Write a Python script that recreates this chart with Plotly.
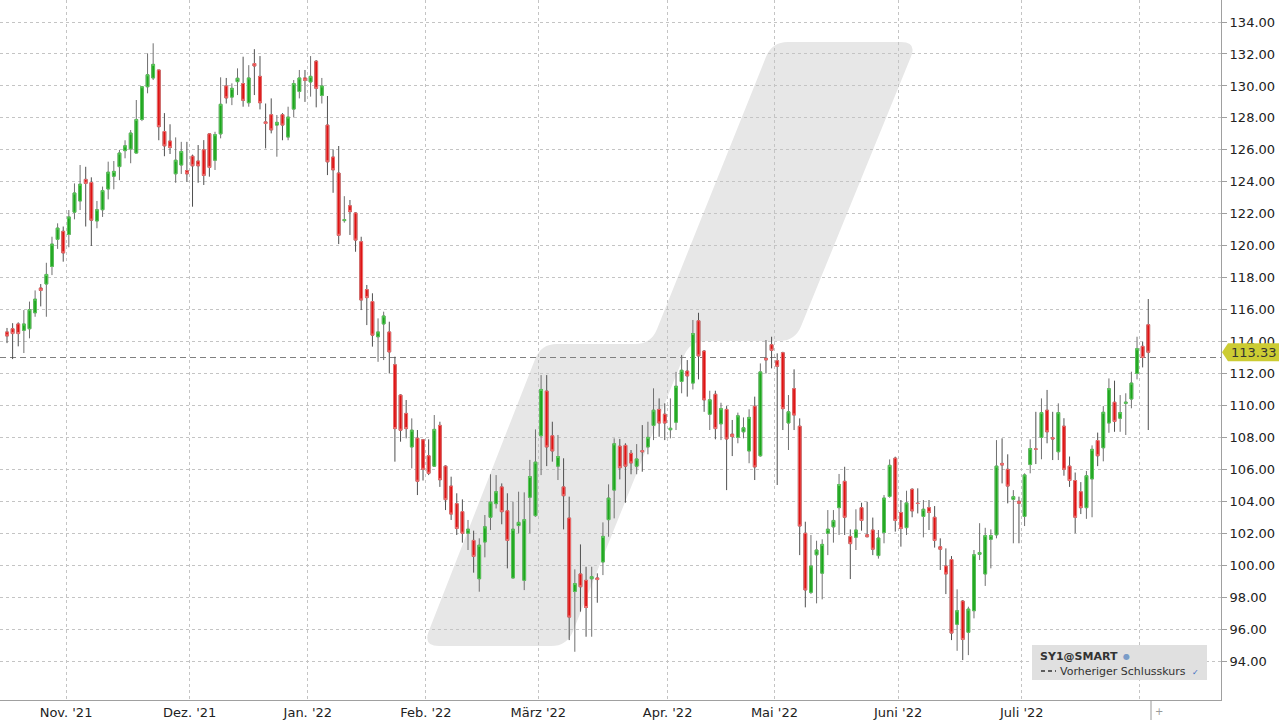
import plotly.graph_objects as go
import pandas as pd

# ---------------- data ----------------
holidays = ["2021-12-24", "2021-12-31", "2022-04-15", "2022-04-18"]
all_days = pd.bdate_range("2021-10-15", "2022-08-02")
dates = all_days[~all_days.isin(pd.to_datetime(holidays))]

opens = [114.6, 114.8, 115.1, 114.7, 114.8, 115.8, 117.35, 117.6, 118.7, 120.4, 120.9,
         120.7, 122.1, 122.8, 124.15, 123.95, 121.55, 122.25, 123.55, 124.35, 124.95,
         125.95, 126.05, 125.8, 127.9, 129.95, 130.5, 131.0, 127.15, 126.55, 124.5, 125.05, 124.7,
         125.6, 125.3, 126.0, 127.0, 125.35, 127.0, 130.0, 129.3, 130.27, 130.15, 128.95,
         131.4, 130.6, 127.75, 128.2, 127.55, 128.2, 126.8, 128.55, 129.65, 130.5,
         130.25, 131.55, 129.4, 127.55, 125.55, 124.55, 121.57, 122.5, 122.05, 120.25, 117.25,
         116.5, 114.3, 115.1, 114.6, 112.55, 110.65, 109.5, 107.4, 107.95, 107.85,
         106.85, 106.2, 108.75, 106.2, 104.95, 103.85, 103.35, 102.0, 101.55, 99.15, 101.45,
         103.0, 103.85, 104.9, 103.4, 99.2, 102.48, 99.05, 104.25, 103.1,
         108.1, 110.9, 108.1, 106.2, 104.9, 102.95, 98.35, 99.45, 99.05, 99.15, 99.2, 100.2,
         102.85, 104.7, 107.45, 107.5, 107.0, 106.2, 107.17, 107.4, 108.75, 109.75, 109.45,
         108.48, 108.95, 111.5, 112.15, 111.4, 115.3, 113.4, 109.45, 110.7, 108.85, 109.75,
         108.2, 108.0, 108.35, 107.15, 109.95, 106.85, 112.95, 113.8,
         112.8, 113.3, 108.9, 111.05, 108.7, 102.0, 98.3, 100.65, 99.5, 102.0, 102.4, 103.6,
         105.25, 101.8, 101.75, 103.6, 101.9, 102.2, 100.6, 102.05, 104.3, 106.7,
         103.3, 102.35, 104.75, 103.88, 103.05, 103.6, 103.0, 101.15, 99.95, 100.35, 96.3,
         97.75, 95.8, 97.15, 100.68, 99.45, 101.62, 101.9, 106.37, 106.0, 104.12, 104.0,
         103.05, 106.3, 107.28, 108.0, 109.7, 107.98, 107.1, 108.7, 106.2, 105.3, 104.6,
         103.6, 105.4, 107.8, 107.35, 108.9, 110.2, 109.2, 110.13, 110.4, 112.0,
         113.7, 115.05]
highs = [114.85, 115.15, 115.2, 115.97, 116.5, 117.2, 117.6, 118.93, 120.56, 121.4, 121.2,
         122.23, 123.9, 125.05, 124.94, 124.28, 122.8, 123.7, 125.26, 125.3, 126.0,
         126.6, 127.24, 129.12, 130.0, 132.04, 132.67, 131.0, 128.3, 127.6, 126.78, 126.5, 126.5,
         125.7, 126.3, 126.61, 127.0, 127.13, 130.54, 130.5, 130.16, 131.1, 131.83, 131.3,
         132.3, 131.87, 128.9, 129.22, 128.18, 128.3, 128.7, 130.37, 131.0, 131.0,
         131.87, 131.62, 130.5, 129.37, 126.03, 126.24, 123.1, 122.86, 122.1, 120.56, 117.54,
         117.02, 115.45, 115.87, 115.24, 113.05, 110.7, 110.34, 109.19, 108.46, 107.9,
         107.88, 109.4, 108.98, 106.25, 105.54, 104.5, 104.12, 102.83, 102.16, 101.68, 103.14,
         105.69, 105.64, 105.12, 104.5, 103.97, 104.6, 104.56, 106.59, 108.5,
         111.9, 111.9, 108.98, 108.15, 106.69, 104.29, 99.74, 101.3, 99.9, 99.9, 99.49, 102.68,
         105.06, 107.94, 107.9, 107.63, 107.21, 107.58, 108.77, 108.98, 111.07, 110.44, 110.13,
         110.44, 112.1, 113.16, 112.84, 115.35, 115.8, 113.47, 110.92, 110.92, 110.17, 109.96,
         109.09, 109.55, 109.25, 109.76, 110.55, 112.63, 114.09, 114.3,
         113.26, 113.36, 110.65, 112.26, 109.19, 102.72, 101.89, 101.53, 101.62, 103.45, 103.45, 105.71,
         106.16, 102.24, 103.5, 103.91, 103.97, 102.98, 102.2, 104.39, 106.62, 106.79,
         104.08, 104.66, 104.81, 104.81, 104.08, 104.08, 103.7, 101.68, 101.05, 100.57, 98.49,
         97.82, 97.4, 100.95, 102.63, 102.34, 102.24, 107.83, 107.94, 106.94, 104.7, 104.29,
         105.75, 107.88, 109.6, 110.44, 110.97, 109.6, 110.13, 109.2, 106.8, 105.8, 105.2,
         105.9, 107.5, 108.3, 109.96, 111.69, 111.55, 110.65, 110.76, 112.11, 114.3,
         113.99, 116.66]
lows = [113.9, 112.9, 113.7, 113.28, 114.2, 115.55, 116.2, 115.55, 118.16, 119.8, 119.0,
        119.9, 121.65, 122.23, 121.2, 119.98, 121.09, 121.8, 122.9, 123.53, 124.1,
        125.47, 125.16, 125.78, 127.8, 129.54, 130.37, 126.6, 125.6, 125.74, 123.94, 124.49, 124.0,
        122.44, 123.94, 123.8, 124.32, 124.74, 126.72, 128.9, 128.8, 129.43, 128.7, 128.7,
        129.43, 128.53, 126.09, 127.03, 125.57, 126.6, 126.6, 128.03, 129.22, 129.0,
        129.33, 128.66, 128.9, 124.42, 123.31, 120.1, 121.44, 120.67, 119.62, 115.97, 115.03,
        113.68, 112.73, 112.84, 112.0, 106.48, 107.73, 107.94, 106.06, 104.39, 105.3,
        105.64, 106.16, 104.9, 103.45, 102.83, 101.89, 101.41, 100.95, 99.53, 98.34, 100.49,
        102.2, 103.55, 102.56, 99.8, 99.17, 101.99, 98.44, 101.99, 103.03,
        105.64, 106.2, 106.48, 105.33, 102.24, 95.31, 94.58, 97.09, 95.52, 95.52, 97.65, 99.38,
        101.78, 102.93, 105.37, 103.91, 105.69, 105.69, 105.85, 106.94, 107.83, 108.04, 107.83,
        107.94, 108.46, 110.76, 110.55, 111.0, 111.63, 109.6, 108.46, 107.88, 107.83, 104.7,
        106.83, 107.63, 107.94, 106.38, 105.33, 106.79, 112.0, 112.32,
        105.02, 108.46, 107.21, 108.46, 100.63, 97.36, 98.19, 97.61, 97.86, 100.63, 101.41, 101.89,
        101.89, 99.13, 100.95, 102.16, 101.75, 100.63, 100.41, 101.37, 104.22, 102.1,
        101.16, 101.89, 103.0, 103.24, 101.74, 102.2, 101.1, 99.7, 98.19, 95.31, 94.64,
        94.06, 94.37, 96.67, 100.32, 98.7, 99.8, 101.68, 105.12, 103.87, 101.37, 101.37,
        102.45, 105.75, 106.33, 106.63, 107.63, 106.58, 106.58, 105.6, 104.9, 102.0, 103.2,
        102.9, 103.0, 106.2, 106.5, 108.29, 108.35, 108.35, 108.15, 109.82, 111.63,
        112.38, 108.46]
closes = [114.35, 114.5, 114.5, 115.1, 116.0, 116.65, 117.2, 118.2, 120.1, 121.1, 119.55,
          121.8, 123.3, 123.85, 123.9, 121.6, 122.25, 123.45, 124.6, 124.65, 125.8,
          126.25, 127.05, 127.9, 129.95, 130.7, 131.35, 127.45, 126.25, 126.15, 125.35, 125.9, 124.5,
          125.0, 125.0, 124.4, 124.9, 126.95, 128.85, 129.25, 129.85, 130.48, 129.1, 130.5,
          131.25, 128.95, 127.65, 127.25, 127.72, 127.55, 128.05, 130.15, 130.5, 130.35,
          130.6, 129.85, 130.0, 125.25, 124.75, 120.65, 121.63, 122.13, 120.35, 116.6, 116.75,
          114.4, 114.6, 115.6, 113.35, 108.55, 108.45, 108.55, 108.45, 105.25, 106.0,
          105.75, 108.5, 105.35, 104.1, 103.2, 102.3, 102.0, 102.25, 100.55, 101.25, 102.4,
          103.95, 104.6, 103.35, 101.55, 102.25, 102.68, 102.85, 105.55, 106.45,
          111.0, 107.4, 107.15, 106.8, 104.35, 96.75, 98.85, 98.65, 97.35, 99.28, 99.1, 101.8,
          104.2, 107.6, 106.1, 106.2, 106.4, 106.65, 107.1, 108.0, 109.7, 108.9, 108.9,
          108.57, 111.2, 112.2, 111.85, 114.5, 113.1, 110.35, 110.35, 108.55, 109.8, 107.9,
          108.05, 109.35, 108.6, 109.25, 106.15, 112.1, 112.85, 113.45,
          112.45, 109.8, 109.6, 109.4, 102.45, 98.45, 99.95, 100.95, 101.3, 102.25, 102.8, 105.05,
          103.0, 101.35, 102.2, 102.8, 101.78, 101.0, 101.7, 104.2, 106.25, 102.8,
          102.3, 103.9, 103.4, 103.86, 103.5, 103.3, 101.55, 101.0, 99.45, 95.75, 97.15,
          95.35, 97.25, 100.65, 100.79, 101.85, 101.85, 106.2, 106.27, 104.95, 104.29, 103.88,
          105.65, 107.3, 107.26, 109.55, 108.35, 107.9, 109.55, 106.0, 105.3, 103.0, 103.6,
          105.6, 107.25, 106.85, 109.57, 111.05, 109.0, 109.55, 110.2, 111.4, 113.55,
          113.0, 113.33]

month_labels = ["Nov. '21", "Dez. '21", "Jan. '22", "Feb. '22", "März '22",
                "Apr. '22", "Mai '22", "Juni '22", "Juli '22", ""]
y_ticks = [94, 96, 98, 100, 102, 104, 106, 108, 110, 112, 114, 116, 118, 120,
           122, 124, 126, 128, 130, 132, 134]
prev_close = 113.0
last_price = 113.33
instrument = "SY1@SMART"
prev_close_label = "Vorheriger Schlusskurs"

# ---------------- derived ----------------
n = len(dates)
idx = list(range(n))
body_hi = [max(o, c) for o, c in zip(opens, closes)]
body_lo = [min(o, c) for o, c in zip(opens, closes)]
month_starts = [i for i in range(1, n) if dates[i].month != dates[i - 1].month]
tickvals = [i - 0.5 for i in month_starts]

PLOT_W, PLOT_H = 1221, 700
Y_MIN, Y_MAX = 91.56, 135.38
X_MIN = -1.245
X_MAX = X_MIN + PLOT_W / 5.622

fig = go.Figure()

# wicks (grey)
fig.add_trace(go.Candlestick(
    x=idx, open=opens, high=highs, low=lows, close=closes,
    increasing=dict(line=dict(color="#707070", width=1), fillcolor="#707070"),
    decreasing=dict(line=dict(color="#505050", width=1), fillcolor="#505050"),
    hoverinfo="skip", showlegend=False, name=""))
# bodies
fig.add_trace(go.Candlestick(
    x=idx, open=opens, high=body_hi, low=body_lo, close=closes,
    increasing=dict(line=dict(color="#5cc85c", width=1), fillcolor="#1ea51e"),
    decreasing=dict(line=dict(color="#f07070", width=1), fillcolor="#dc1414"),
    showlegend=False, name=instrument))


def px2paper(x, y):
    return x / PLOT_W, (PLOT_H - y) / PLOT_H


def rounded_path(pts, r):
    import math
    segs = []
    m = len(pts)
    for k in range(m):
        p0, p1, p2 = pts[k - 1], pts[k], pts[(k + 1) % m]
        def toward(a, b):
            dx, dy = b[0] - a[0], b[1] - a[1]
            d = math.hypot(dx, dy)
            rr = min(r, d / 2.2)
            return (a[0] + dx / d * rr, a[1] + dy / d * rr)
        segs.append((toward(p1, p0), p1, toward(p1, p2)))
    def fmt(p):
        x, y = px2paper(*p)
        return f"{x:.5f},{y:.5f}"
    s = "M " + fmt(segs[0][0])
    for k in range(m):
        a, c, b = segs[k]
        if k > 0:
            s += " L " + fmt(a)
        s += " Q " + fmt(c) + " " + fmt(b)
    s += " L " + fmt(segs[0][0]) + " Z"
    return s


logo_pts = [(772, 42), (917, 42), (795, 341), (690, 341), (567, 646),
            (423, 646), (541, 344), (651, 344)]

shapes = [
    dict(type="path", xref="paper", yref="paper", path=rounded_path(logo_pts, 16),
         fillcolor="#e7e7e7", line=dict(width=0), layer="below"),
    dict(type="line", xref="paper", yref="y", x0=0, x1=1, y0=prev_close, y1=prev_close,
         line=dict(color="#808080", width=1, dash="6px,4px"), layer="between"),
    # legend box
    dict(type="rect", xref="paper", yref="paper",
         x0=1032 / PLOT_W, x1=1207 / PLOT_W, y0=(PLOT_H - 680) / PLOT_H, y1=(PLOT_H - 645) / PLOT_H,
         fillcolor="#e0e0e0", line=dict(width=0), layer="above"),
    dict(type="line", xref="paper", yref="paper",
         x0=1041 / PLOT_W, x1=1056 / PLOT_W, y0=(PLOT_H - 671) / PLOT_H, y1=(PLOT_H - 671) / PLOT_H,
         line=dict(color="#333333", width=1.5, dash="4px,3px"), layer="above"),
    # end marker below axis
    dict(type="line", xref="paper", yref="paper",
         x0=1151 / PLOT_W, x1=1151 / PLOT_W, y0=0, y1=-20 / PLOT_H,
         line=dict(color="#999999", width=1)),
]

# last price pennant
yp = (last_price - Y_MIN) / (Y_MAX - Y_MIN)
hh = 9 / PLOT_H
shapes.append(dict(type="path", xref="paper", yref="paper",
                   path=(f"M {1222/PLOT_W:.5f},{yp:.5f} L {1228/PLOT_W:.5f},{yp+hh:.5f} "
                         f"L {1279/PLOT_W:.5f},{yp+hh:.5f} L {1279/PLOT_W:.5f},{yp-hh:.5f} "
                         f"L {1228/PLOT_W:.5f},{yp-hh:.5f} Z"),
                   fillcolor="#cccc33", line=dict(width=0), layer="above"))

annotations = [
    dict(xref="paper", yref="paper", x=1229 / PLOT_W, y=yp, xanchor="left", yanchor="middle",
         text=f"{last_price:.2f}", showarrow=False,
         font=dict(family="DejaVu Sans", size=13, color="#333333")),
    dict(xref="paper", yref="paper", x=1038 / PLOT_W, y=(PLOT_H - 656) / PLOT_H,
         xanchor="left", yanchor="middle", text=f"<b>{instrument}</b>", showarrow=False,
         font=dict(family="DejaVu Sans", size=11, color="#333333")),
    dict(xref="paper", yref="paper", x=1121 / PLOT_W, y=(PLOT_H - 656) / PLOT_H,
         xanchor="left", yanchor="middle", text="●", showarrow=False,
         font=dict(family="DejaVu Sans", size=8, color="#7a9cc8")),
    dict(xref="paper", yref="paper", x=1058 / PLOT_W, y=(PLOT_H - 671) / PLOT_H,
         xanchor="left", yanchor="middle", text=prev_close_label, showarrow=False,
         font=dict(family="DejaVu Sans", size=11, color="#333333")),
    dict(xref="paper", yref="paper", x=1190 / PLOT_W, y=(PLOT_H - 672) / PLOT_H,
         xanchor="left", yanchor="middle", text="✓", showarrow=False,
         font=dict(family="DejaVu Sans", size=8, color="#3a6cc0")),
    dict(xref="paper", yref="paper", x=1153 / PLOT_W, y=-11 / PLOT_H,
         xanchor="left", yanchor="middle", text="+", showarrow=False,
         font=dict(family="DejaVu Sans", size=10, color="#999999")),
]

fig.update_layout(
    width=1280, height=720,
    margin=dict(l=0, r=59, t=0, b=20, autoexpand=False),
    paper_bgcolor="white", plot_bgcolor="white",
    showlegend=False,
    shapes=shapes, annotations=annotations,
    xaxis=dict(
        range=[X_MIN, X_MAX], rangeslider=dict(visible=False),
        tickmode="array", tickvals=tickvals, ticktext=month_labels,
        showgrid=True, gridcolor="#c4c4c4", griddash="dot", gridwidth=1,
        showline=True, linecolor="#a0a0a0", linewidth=1,
        ticks="", zeroline=False, automargin=False,
        tickfont=dict(family="DejaVu Sans", size=13, color="#222222"),
    ),
    yaxis=dict(
        range=[Y_MIN, Y_MAX], side="right",
        tickmode="array", tickvals=y_ticks, tickformat=".2f",
        showgrid=True, gridcolor="#c4c4c4", griddash="dot", gridwidth=1,
        showline=True, linecolor="#a0a0a0", linewidth=1,
        ticks="outside", ticklen=5, tickcolor="#a0a0a0", zeroline=False, automargin=False,
        tickfont=dict(family="DejaVu Sans", size=13, color="#222222"),
    ),
)

fig.write_html("out.html",
               config={"displayModeBar": False},
               post_script="document.body.style.margin='0';document.body.style.overflow='hidden';")
